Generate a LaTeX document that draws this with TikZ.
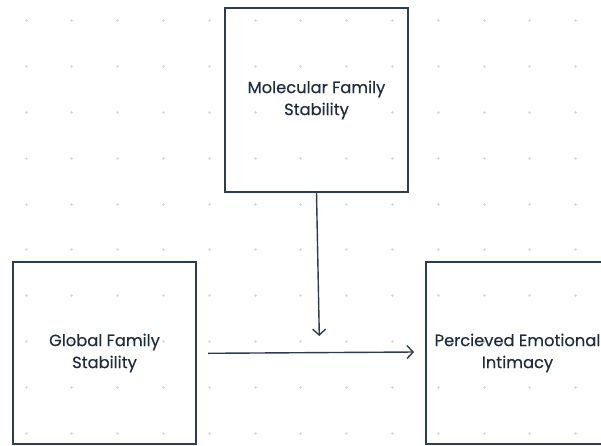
\documentclass[tikz,border=0pt]{standalone}
\usepackage{fontspec}
\setmainfont{Poppins}[FakeBold=0.3]
\usetikzlibrary{arrows.meta}
\definecolor{edge}{HTML}{2E3C52}
\definecolor{txt}{HTML}{1F2B3F}
\definecolor{gdot}{HTML}{D8DADE}
\tikzset{
  box/.style={draw=edge, line width=1.6pt, rectangle, align=center, text=txt,
    font=\fontsize{16.3}{22}\selectfont, inner sep=0pt},
  conn/.style={draw=edge, line width=1.4pt, -{Straight Barb[length=6pt,width=13pt,line width=1.4pt]}},
  gridmark/.style={gdot, line width=0.9pt}
}
\begin{document}
\begin{tikzpicture}[x=1pt,y=-1pt]
\useasboundingbox (0,0) rectangle (601,445);
\clip (0,0) rectangle (601,445);
\fill[white] (0,0) rectangle (601,445);
% dot grid
\foreach \i in {0,...,12}{
  \foreach \j in {0,...,9}{
    \draw[gridmark] ({26+45.8*\i-1.5},{20.8+45.8*\j}) -- ++(3,0);
    \draw[gridmark] ({26+45.8*\i},{20.8+45.8*\j-1.5}) -- ++(0,3);
  }
}
\node[box, minimum width=183pt, minimum height=184pt] (mol) at (316.5,100) {Molecular Family\\Stability};
\node[box, minimum width=183pt, minimum height=182pt] (glob) at (104.5,353) {Global Family\\Stability};
\node[box, minimum width=183pt, minimum height=182pt] (perc) at (517.5,353) {Percieved Emotional\\Intimacy};
\coordinate (vend) at (319.3,336);
\coordinate (hstart) at (208,353.3);
\coordinate (hend) at (414,352);
\draw[conn] (mol.south) -- (vend);
\draw[conn] (hstart) -- (hend);
\end{tikzpicture}
\end{document}
